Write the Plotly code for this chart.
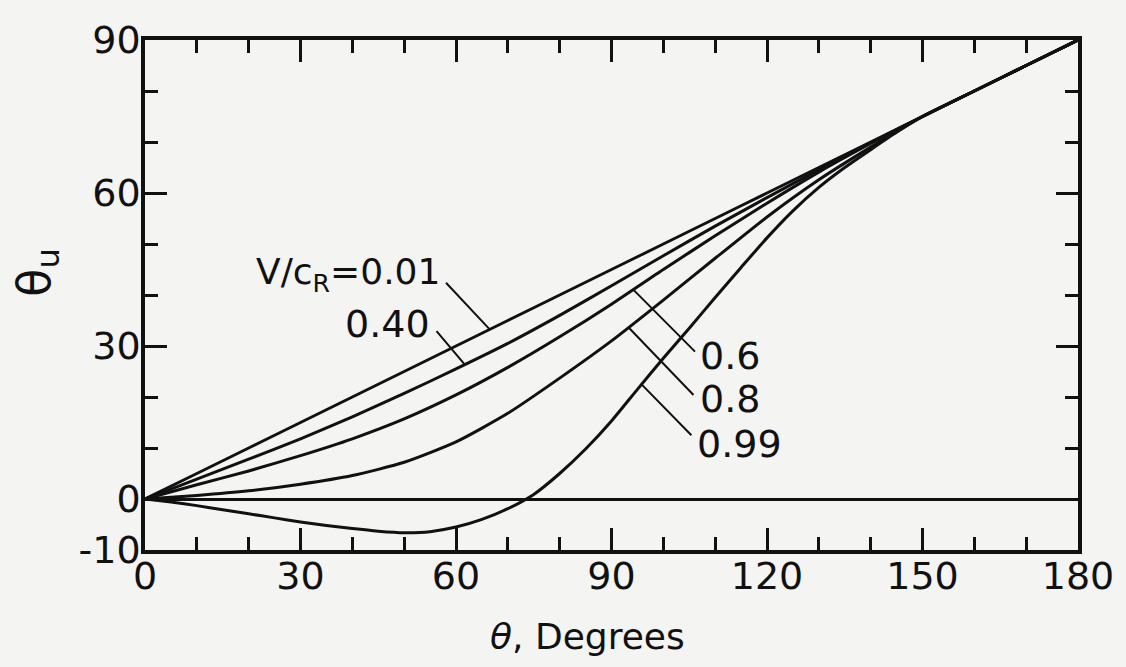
import numpy as np
import plotly.graph_objects as go

# ---------------- data ----------------
theta10 = [0, 10, 20, 30, 40, 50, 60, 70, 80, 90, 100, 110, 120, 130, 140, 150, 160, 170, 180]
v_001 = [0, 5, 10, 15, 20, 25, 30, 35, 40, 45, 50, 55, 60, 65, 70, 75, 80, 85, 90]
v_040 = [0, 3.9, 7.8, 11.8, 16.1, 20.7, 25.5, 30.5, 36.0, 41.8, 47.7, 53.5, 59.1, 64.55, 69.85, 75, 80, 85, 90]
v_060 = [0, 2.8, 5.5, 8.5, 11.8, 15.7, 20.4, 25.8, 31.8, 38.2, 45.0, 51.6, 58.0, 64.1, 69.7, 75, 80, 85, 90]
v_080 = [0, 0.7, 1.6, 2.9, 4.6, 7.2, 11.2, 16.8, 23.7, 31.0, 39.0, 47.2, 55.3, 62.6, 69.0, 75, 80, 85, 90]

theta5 = [0, 5, 10, 15, 20, 25, 30, 35, 40, 45, 50, 55, 60, 65, 70, 75, 80, 85, 90,
          95, 100, 105, 110, 115, 120, 125, 130, 135, 140, 145, 150, 155, 160, 165, 170, 175, 180]
v_099 = [0, -0.6, -1.3, -2.1, -2.9, -3.7, -4.5, -5.2, -5.8, -6.3, -6.6, -6.4, -5.5, -4.0, -1.9, 0.9,
         5.0, 9.8, 15.3, 21.5, 27.6, 33.5, 39.5, 45.4, 51.2, 56.5, 61.1, 65.0, 68.5, 71.9, 75, 77.5,
         80, 82.5, 85, 87.5, 90]

x_ticks = [0, 30, 60, 90, 120, 150, 180]
y_ticks = [-10, 0, 30, 60, 90]
y_tick_text = ["-10", "0", "30", "60", "90"]
y_minor = [10, 20, 40, 50, 70, 80]

series = [
    ("0.01", theta10, v_001),
    ("0.40", theta10, v_040),
    ("0.6", theta10, v_060),
    ("0.8", theta10, v_080),
    ("0.99", theta5, v_099),
]

FONT = "DejaVu Sans"
INK = "#111111"
BG = "#f4f4f2"

fig = go.Figure()
for name, xs, ys in series:
    fig.add_trace(go.Scatter(x=xs, y=ys, mode="lines", name=name,
                             line=dict(color=INK, width=3, shape="spline", smoothing=0.6),
                             showlegend=False, hoverinfo="skip"))

# leader lines: (label, curve theta where leader touches, leader start theta, leader start thetaU)
leaders = [
    ("0.01", 66.5, 57.8, 42.7),
    ("0.40", 61.7, 56.0, 33.2),
    ("0.6", 94.2, 106.4, 28.6),
    ("0.8", 93.3, 106.1, 20.1),
    ("0.99", 95.8, 105.7, 12.2),
]
lookup = {name: (xs, ys) for name, xs, ys in series}
for name, tx, sx, sy in leaders:
    xs, ys = lookup[name]
    cy = float(np.interp(tx, xs, ys))
    fig.add_annotation(x=tx, y=cy, ax=sx, ay=sy, xref="x", yref="y", axref="x", ayref="y",
                       text="", showarrow=True, arrowhead=0, arrowwidth=2, arrowcolor=INK,
                       standoff=0, startstandoff=0)

labels = [
    ("V/c<sub>R</sub>=0.01", 57.3, 44.0, "right", 36),
    ("0.40", 55.3, 34.3, "right", 38),
    ("0.6", 106.6, 28.0, "left", 38),
    ("0.8", 106.6, 19.6, "left", 38),
    ("0.99", 106.2, 10.8, "left", 38),
]
for txt, lx, ly, anc, fs in labels:
    fig.add_annotation(x=lx, y=ly, xref="x", yref="y", text=txt, showarrow=False,
                       xanchor=anc, yanchor="middle",
                       font=dict(family=FONT, size=fs, color=INK))

# x-axis title
fig.add_annotation(x=(590 - 145) / 939, y=(550 - 636) / 510, xref="paper", yref="paper",
                   text="<i>θ</i>, Degrees", showarrow=False, xanchor="center", yanchor="middle",
                   font=dict(family=FONT, size=36, color=INK))
# y-axis title (rotated, placed as in the reference)
fig.add_annotation(x=(36 - 145) / 939, y=(550 - 272) / 510, xref="paper", yref="paper",
                   text="θ<sub>u</sub>", showarrow=False, textangle=-90,
                   xanchor="center", yanchor="middle",
                   font=dict(family=FONT, size=46, color=INK))

axis_common = dict(
    showline=True, linecolor=INK, linewidth=3.5, mirror="allticks",
    ticks="inside", ticklen=22, tickwidth=3, tickcolor=INK,
    showgrid=False,
    tickfont=dict(family=FONT, size=38, color=INK),
)

fig.update_xaxes(range=[0, 180], tickmode="array", tickvals=x_ticks,
                 ticktext=[str(v) for v in x_ticks], zeroline=False,
                 minor=dict(tickmode="linear", tick0=0, dtick=10, ticks="inside",
                            ticklen=13, tickwidth=3, tickcolor=INK),
                 ticklabelstandoff=-10,
                 **axis_common)
fig.update_yaxes(range=[-10, 90], tickmode="array", tickvals=y_ticks,
                 ticktext=y_tick_text,
                 zeroline=True, zerolinecolor=INK, zerolinewidth=2.5,
                 minor=dict(tickmode="array", tickvals=y_minor, ticks="inside",
                            ticklen=13, tickwidth=3, tickcolor=INK),
                 ticklabelstandoff=-7,
                 **axis_common)

fig.update_layout(
    width=1126, height=667,
    margin=dict(l=145, r=42, t=40, b=117),
    paper_bgcolor=BG, plot_bgcolor=BG,
    showlegend=False,
)

fig.write_html(
    "out.html",
    config={"displayModeBar": False},
    post_script="document.body.style.margin='0';document.body.style.background='%s';" % BG,
)
